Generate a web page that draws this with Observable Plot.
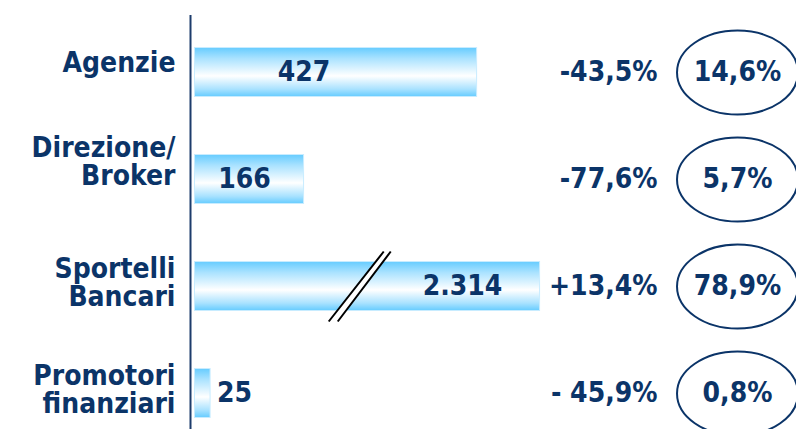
<!DOCTYPE html>
<html>
<head>
<meta charset="utf-8">
<script src="https://cdn.jsdelivr.net/npm/d3@7"></script>
<script src="https://cdn.jsdelivr.net/npm/@observablehq/plot@0.6"></script>
<style>
  html, body { margin: 0; padding: 0; background: #fff; }
  #chart svg { display: block; }
</style>
</head>
<body>
<div id="chart"></div>
<script>
// ---- data ----
const categories = ["Agenzie", "Direzione/\nBroker", "Sportelli\nBancari", "Promotori\nfinanziari"];
const values = [427, 166, 2314, 25];
const changeText = ["-43,5%", "-77,6%", "+13,4%", "- 45,9%"];
const shares = [14.6, 5.7, 78.9, 0.8];
// axis break: values above `cap` are drawn truncated, break mark drawn at `at`
const axisBreak = {at: 250, cap: 522};

// ---- layout / style tweaks (not data) ----
const navy = "#0b3468";
const labelDy = {"Agenzie": -9, "Direzione/\nBroker": -17, "Sportelli\nBancari": -3, "Promotori\nfinanziari": -3};
const valueDx = {"Agenzie": -32, "Direzione/\nBroker": -5, "Sportelli\nBancari": 95};

const it = d3.formatLocale({decimal: ",", thousands: ".", grouping: [3], currency: ["€", ""]});
const fmtInt = it.format(",");
const fmtPct = it.format(".1f");

const rows = categories.map((c, i) => ({
  cat: c, value: values[i], change: changeText[i], share: fmtPct(shares[i]) + "%"
}));
const shown = d => Math.min(d.value, axisBreak.cap);

const ellipse = {
  draw(ctx, size) {
    const ry = Math.sqrt(size / Math.PI), rx = ry * 1.44, k = 0.5523;
    ctx.moveTo(rx, 0);
    ctx.bezierCurveTo(rx, ry * k, rx * k, ry, 0, ry);
    ctx.bezierCurveTo(-rx * k, ry, -rx, ry * k, -rx, 0);
    ctx.bezierCurveTo(-rx, -ry * k, -rx * k, -ry, 0, -ry);
    ctx.bezierCurveTo(rx * k, -ry, rx, -ry * k, rx, 0);
    ctx.closePath();
  }
};
const breakGap = {
  draw(ctx) {
    ctx.moveTo(-31.5, 35); ctx.lineTo(23.5, -35); ctx.lineTo(30.5, -35); ctx.lineTo(-22.5, 35); ctx.closePath();
  }
};
const breakLines = {
  draw(ctx) {
    ctx.moveTo(-31.5, 35); ctx.lineTo(23.5, -35);
    ctx.moveTo(-22.5, 35); ctx.lineTo(30.5, -35);
  }
};

const font = '"DejaVu Sans Condensed", "DejaVu Sans", sans-serif';
const brokenRows = rows.filter(d => d.value > axisBreak.cap);

const plot = Plot.plot({
  width: 796,
  height: 429,
  marginLeft: 194,
  marginRight: 0,
  marginTop: 36,
  marginBottom: 0,
  x: {domain: [0, 908], axis: null},
  y: {domain: categories, axis: null, paddingInner: 0.533, paddingOuter: 0.1},
  style: {fontFamily: font, fontWeight: "bold", fontStretch: "condensed", fontSize: "28px", color: navy, background: "#fff", overflow: "visible"},
  marks: [
    Plot.barX(rows, {y: "cat", x: shown, fill: "url(#barGrad)", stroke: "#c8ecff", strokeWidth: 1, inset: 0.5}),
    Plot.dot(brokenRows, {x: () => axisBreak.at, y: "cat", symbol: breakGap, r: 10, fill: "#fff", stroke: "none"}),
    Plot.dot(brokenRows, {x: () => axisBreak.at, y: "cat", symbol: breakLines, r: 10, fill: "none", stroke: "#000", strokeWidth: 2}),
    Plot.ruleX([0], {dx: -4, insetTop: -21, stroke: "#1d3c6c", strokeWidth: 2}),
    ...categories.map(c => Plot.text(rows.filter(d => d.cat === c), {
      y: "cat", x: 0, text: "cat", textAnchor: "end", dx: -19, dy: labelDy[c], lineHeight: 1.0, fill: navy
    })),
    ...Object.keys(valueDx).map(c => Plot.text(rows.filter(d => d.cat === c), {
      y: "cat", x: d => shown(d) / 2, text: d => fmtInt(d.value), dx: valueDx[c], fill: navy
    })),
    Plot.text(rows.filter(d => !(d.cat in valueDx)), {
      y: "cat", x: shown, text: d => fmtInt(d.value), textAnchor: "start", dx: 6, fill: navy
    }),
    Plot.text(rows, {y: "cat", text: "change", frameAnchor: "right", textAnchor: "end", dx: -139, fill: navy}),
    Plot.dot(rows, {y: "cat", frameAnchor: "right", dx: -59, r: 42, symbol: ellipse, fill: "none", stroke: navy, strokeWidth: 2}),
    Plot.text(rows, {y: "cat", text: "share", frameAnchor: "right", dx: -59, textAnchor: "middle", fill: navy})
  ]
});

const ns = "http://www.w3.org/2000/svg";
const defs = document.createElementNS(ns, "defs");
defs.innerHTML = `<linearGradient id="barGrad" x1="0" y1="0" x2="0" y2="1">
  <stop offset="0" stop-color="#66ccff"/>
  <stop offset="0.22" stop-color="#a9e2ff"/>
  <stop offset="0.58" stop-color="#ffffff"/>
  <stop offset="0.85" stop-color="#a9e2ff"/>
  <stop offset="1" stop-color="#66ccff"/>
</linearGradient>`;
plot.insertBefore(defs, plot.firstChild);
document.getElementById("chart").appendChild(plot);
</script>
</body>
</html>
